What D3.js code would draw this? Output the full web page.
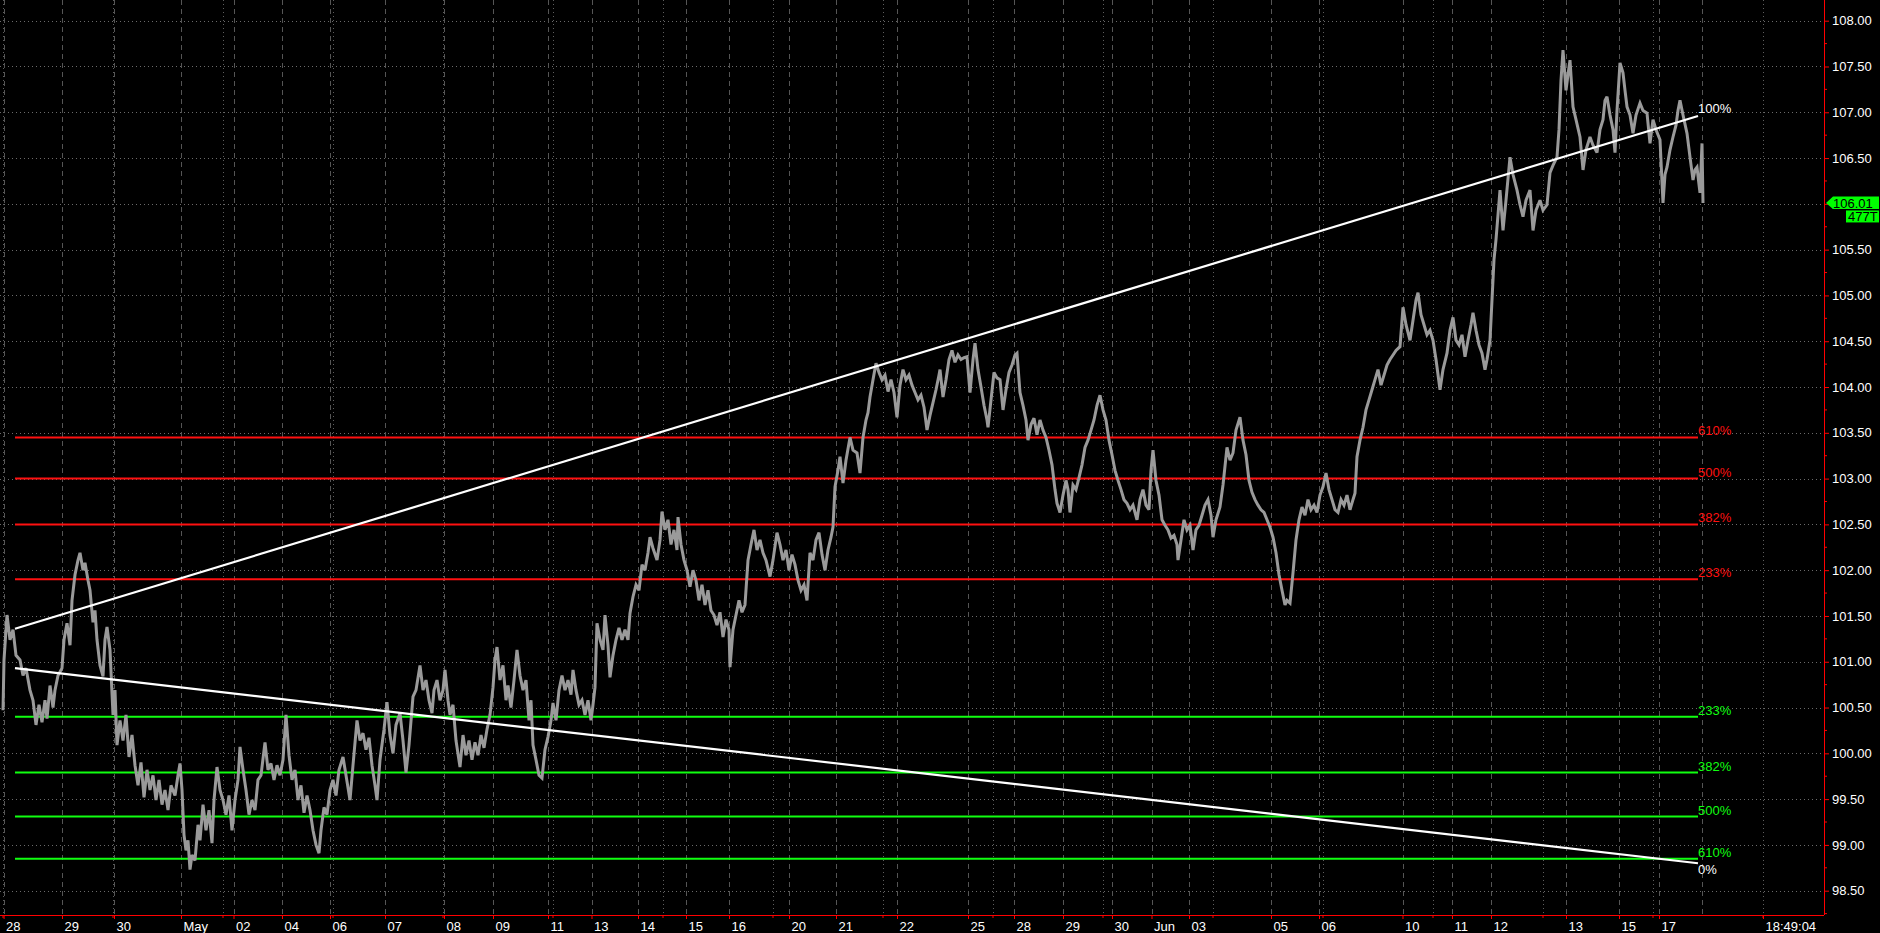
<!DOCTYPE html>
<html><head><meta charset="utf-8">
<script src="https://cdn.jsdelivr.net/npm/d3@7/dist/d3.min.js"></script>
<style>
html,body{margin:0;padding:0;background:#000;overflow:hidden}
svg{display:block}
text{font-family:"Liberation Sans",Arial,sans-serif}
</style></head><body>
<svg id="chart" width="1880" height="933"></svg>
<script>
// ---- data ----
const dayTickBars   = [1.8,31,57,90.5,116.75,141,165,192.5,222,246.5,274,295.75,319,343,364.5,394.5,418,448.5,484,507,531.5,556,575.75,594.5,635.5,659.5,701.25,726,745.5,783,809.5,829.5,881.5];
const dayTickLabels = ["28","29","30","May","02","04","06","07","08","09","11","13","14","15","16","20","21","22","25","28","29","30","Jun","03","05","06","10","11","12","13","15","17","18:49:04"];
const currentBar = 851;
const yTickValues = [98.5,99,99.5,100,100.5,101,101.5,102,102.5,103,103.5,104,104.5,105,105.5,106,106.5,107,107.5,108];
const redLevels   = [103.45,103.00,102.50,101.90];
const redLabels   = ["610%","500%","382%","233%"];
const greenLevels = [100.40,99.79,99.31,98.85];
const greenLabels = ["233%","382%","500%","610%"];
const levelStartBar = 7.5, levelEndBar = 849;
const trendUpper = [[7.5,101.36],[849,106.96]];
const trendLower = [[7.5,100.93],[849,98.80]];
const trendUpperLabel = "100%", trendLowerLabel = "0%";
const lastPrice = 106.01, lastVolume = "477T";

const priceSeries = [
[1.5,100.47],[2,101.02],[3.5,101.51],[5,101.24],[6.5,101.35],[8,101.07],[10,101.02],[11.5,100.85],[13,100.93],[15,100.69],[16.5,100.58],[18,100.31],[19.5,100.53],[21,100.34],[22.5,100.58],[23.5,100.38],[25,100.74],[26.5,100.50],[27.5,100.69],[29,100.85],[31,100.93],[32,101.24],[33.5,101.42],[35,101.18],[36,101.67],[37.5,101.95],[39,102.11],[40,102.19],[41.5,102.00],[42.5,102.08],[44,101.89],[45,101.78],[46.5,101.43],[47.5,101.56],[48.5,101.24],[50,100.96],[51.5,100.84],[52.5,101.24],[53.5,101.38],[55,101.13],[56.5,100.42],[57.5,100.69],[58.5,100.09],
[60,100.36],[61.5,100.14],[63,100.42],[64.5,99.96],[66,100.20],[67.5,99.87],[69,99.65],[70.5,99.90],[72,99.52],[73.5,99.82],[75,99.60],[76.5,99.76],[78,99.49],[79.5,99.71],[81,99.44],[82.5,99.60],[84,99.38],[85.5,99.65],[87.5,99.54],[89,99.76],[90,99.89],[91,99.60],[92,99.11],[93,98.94],[94,99.05],[95,98.73],[96,98.89],[97.5,98.83],[99,99.22],[100,99.05],[101.5,99.44],[103,99.16],[104.5,99.38],[106,99.02],[107,99.49],[108.5,99.85],[110,99.60],[111.5,99.49],[113,99.33],[114.5,99.54],[116,99.16],[117.5,99.49],[119,99.71],[120,100.07],[121.5,99.82],[123,99.60],[124.5,99.33],[126,99.49],[127.5,99.38],[129,99.71],[130.5,99.76],[132.5,100.12],[134,99.82],[135.5,99.89],[137,99.71],[138.5,99.87],[140,99.76],[141.5,99.93],[143,100.42],[144.5,99.98],[146,99.71],[147.5,99.82],[149,99.49],[150.5,99.65],[152,99.35],[153.5,99.54],[155,99.38],[156.5,99.16],[158,99.00],[159.5,98.91],[160.5,99.16],[162,99.41],[163.5,99.33],[165,99.60],[166.5,99.71],[168,99.54],[169.5,99.82],[171.5,99.96],[173,99.76],[175,99.49],[176.5,99.87],[178.5,100.36],[180,100.14],[181.5,100.22],[183,100.04],[184.5,100.17],[186,99.87],[187.5,99.65],[188.5,99.49],[190,99.93],[192,100.26],[193.5,100.56],[195,100.20],[196.5,100.00],[198,100.31],[200,100.44],[201.5,100.14],[203,99.79],[204.5,100.09],[206.5,100.62],[208,100.69],[210,100.96],[211.5,100.69],[213,100.80],[214.5,100.58],[216,100.44],[217,100.69],[218.5,100.80],[220,100.58],
[221.5,100.69],[222.5,100.91],[224,100.58],[225,100.42],[226.5,100.53],[228,100.14],[230,99.85],[231.5,100.20],[233,99.98],[234.5,100.14],[236,99.93],[237.5,100.12],[239,99.98],[240.5,100.20],[242,100.06],[243.5,100.26],[245,100.42],[246.5,100.72],[247.5,101.02],[248.5,101.16],[250,100.80],[251.5,100.96],[253,100.58],[254,100.74],[255.5,100.50],[257,100.80],[258.5,101.13],[260,100.85],[261.5,100.69],[263,100.80],[264.5,100.36],[265.5,100.58],[266.5,100.09],[268,99.93],[269.5,99.76],[271,99.73],[272.5,100.04],[274,100.18],[275.5,100.36],[276.5,100.55],[278,100.36],[279.5,100.69],[281,100.85],[282.5,100.69],[284,100.80],[285.5,100.64],[286.5,100.91],[288,100.69],[289.5,100.53],[291,100.58],[292.5,100.42],[294,100.58],[295.5,100.36],[296.5,100.53],[297.5,100.72],[298.5,101.42],[300,101.24],[301.5,101.13],[302.5,101.51],[304,101.18],[305,100.83],[306.5,101.07],[308,101.24],[309.5,101.37],[311,101.24],[312.5,101.35],[314,101.24],[315,101.53],[316.5,101.71],[318,101.84],[319.5,101.78],[321,102.06],[322.5,102.00],[324,102.19],[325,102.36],[326.5,102.24],[328.5,102.11],[330,102.33],[331,102.64],[332.5,102.44],[334,102.55],[335.5,102.28],[337,102.44],[338.5,102.22],[339,102.58],[340.5,102.28],[342,102.11],[343.5,102.00],[345,101.82],[346.5,102.00],[348,101.89],[349.5,101.67],[351,101.84],[352.5,101.62],[354,101.78],[355.5,101.56],[357,101.51],[358.5,101.40],[360,101.54],[361.5,101.27],[363,101.46],[364.5,101.35],[365,100.94],[366.5,101.35],[368,101.51],[369.5,101.67],[371,101.54],[372.5,101.62],[374,102.11],[375.5,102.28],[377,102.44],[378.5,102.22],[380,102.33],[381.5,102.19],[383,102.11],[385,101.93],[386.5,102.11],[388.5,102.41],[390,102.28],[391.5,102.11],[393,102.22],[394.5,102.00],[396,102.17],[397.5,102.06],[399,101.89],[400.5,101.78],[402,101.84],[403.5,101.67],[405,102.19],[406.5,102.11],[408,102.33],[409.5,102.41],[411,102.17],[412.5,102.00],[414,102.22],[415.5,102.36],[416.5,102.47],[417.5,102.91],[419,103.09],[420,103.24],[421.5,102.95],[423,103.20],[425,103.45],[426.5,103.31],[428.5,103.28],[430,103.06],[431.5,103.45],[433,103.64],[434,103.72],
[435,103.89],[436.5,104.08],[438,104.26],[439.5,104.16],[441,104.08],[442.5,104.13],[444,103.95],[445.5,104.08],[447,103.94],[448.5,103.67],[450,104.02],[451.5,104.19],[453,104.08],[454.5,104.13],[456,104.02],[457.5,103.94],[459,103.86],[460.5,103.91],[462,103.78],[463.5,103.53],[465,103.69],[466.5,103.83],[468,103.97],[469.5,104.13],[470,104.19],[471.5,103.89],[473,104.08],[474.5,104.30],[476,104.40],[477.5,104.27],[479,104.35],[480.5,104.30],[482,104.32],[483.5,104.33],[485,103.94],[486.5,104.30],[487.5,104.48],[489,104.19],[490.5,104.00],[492,103.80],[493.5,103.64],[494,103.56],[495.5,103.86],[497,104.16],[498.5,104.10],[500,104.08],[501.5,103.75],[503,103.97],[504.5,104.16],[506,104.24],[507.5,104.35],[508.5,104.37],[510,103.94],[511.5,103.80],[513,103.64],[514,103.42],[515.5,103.59],[517,103.66],[518.5,103.48],[520,103.64],[521.5,103.53],[523,103.45],[524.5,103.31],[526,103.15],[527.5,102.88],[528.5,102.73],[530,102.63],[531.5,102.82],[533,102.98],[534,102.88],[535,102.63],[536.5,102.93],[538,102.88],[539.5,103.01],[541,103.15],[542.5,103.34],[544,103.42],[545.5,103.53],[547,103.64],[548.5,103.80],[550,103.91],[551.5,103.75],[553,103.64],[554.5,103.42],[556,103.26],[557.5,103.09],[559,102.98],[560.5,102.88],[562,102.77],[563.5,102.73],[565,102.66],[566.5,102.71],[568.5,102.55],[570,102.77],[571.5,102.88],[573,102.71],[574.5,102.66],[575.5,103.09],[576.5,103.31],[578,102.98],[579.5,102.82],[581,102.55],[582.5,102.49],[584,102.44],[585.5,102.35],[587,102.38],[588.5,102.28],[589,102.11],[590.5,102.33],[592,102.55],[593.5,102.44],[595,102.49],[596.5,102.22],[598,102.44],[599.5,102.49],[601,102.60],[602.5,102.71],[604,102.77],[605.5,102.60],[606.5,102.36],[608,102.55],[610,102.69],[611.5,102.93],[613.5,103.34],[615,103.20],[616.5,103.28],[618,103.53],[620,103.67],[621.5,103.42],[623,103.26],[624.5,102.98],[626,102.85],[627.5,102.77],[629,102.71],[630.5,102.66],[632,102.63],[633.5,102.55],[635,102.47],[636.5,102.36],[638,102.19],[639.5,101.95],[641,101.78],[642.5,101.62],[643.5,101.67],[645,101.64],[646.5,101.97],[648,102.33],
[649.5,102.55],[651,102.69],[652.5,102.60],[654,102.77],[655.5,102.66],[657,102.71],[658.5,102.63],[660,102.82],[661.5,102.91],[663,103.06],[664.5,102.88],[666,102.77],[667.5,102.66],[669,102.63],[670.5,102.77],[672,102.71],[673.5,102.82],[675,102.66],[676.5,102.77],[677.5,102.84],[678.5,103.24],[680,103.42],[681.5,103.56],[683,103.75],[684.5,103.86],[686,103.97],[687.5,104.08],[689,104.19],[690.5,104.02],[692,104.13],[693.5,104.24],[695,104.30],[696.5,104.35],[698,104.40],[700,104.44],[701.5,104.87],[703,104.68],[705,104.51],[706.5,104.73],[708,104.95],[709,105.03],[710.5,104.79],[712,104.68],[713.5,104.57],[715,104.62],[716.5,104.51],[718,104.30],[720,103.97],[721.5,104.19],[723.5,104.37],[725,104.62],[726.5,104.76],[728,104.51],[729.5,104.46],[731,104.57],[732.5,104.33],[734,104.51],[735.5,104.68],[736.5,104.81],[738,104.62],[739.5,104.46],[741,104.37],[742.5,104.19],[743.5,104.30],[745,104.51],[746,104.95],[747,105.39],[748,105.61],[749,105.88],[750,106.15],[751.5,105.71],[753,106.04],[755,106.51],[756.5,106.32],[758.5,106.15],[760,105.99],[761.5,105.86],[763,106.04],[765,106.15],[766.5,105.71],[768,105.93],[770,106.04],[771.5,105.93],[773.5,105.99],[775,106.34],[776.5,106.42],[778.5,106.51],[779.5,106.81],[780.5,107.35],[781.5,107.68],[783,107.24],[784,107.41],[785,107.57],[786.5,107.06],[788,106.92],[790,106.73],[791.5,106.37],[793,106.59],[795,106.73],[796.5,106.64],[798.5,106.56],[800,106.81],[801.5,106.92],[802.5,107.13],[803.5,107.17],[805,106.97],[806.5,106.81],[807.5,106.56],[808.5,107.02],[810,107.54],[811.5,107.43],[812.5,107.24],[813.5,107.06],[815,106.97],[816.5,106.77],[818,106.97],[820,107.10],[821.5,107.02],[823.5,106.99],[825,106.66],[826.5,106.92],[828,106.81],[830,106.70],[831.5,106.01],[832.5,106.32],[833.5,106.40],[835,106.59],[836.5,106.73],[838,106.86],[839,107.02],[840,107.13],[841.5,106.97],[843.5,106.77],[845,106.51],[846.5,106.26],[847.5,106.37],[848.5,106.40],[849.5,106.21],[850,106.12],[851,106.66],[851.5,106.01]
];

// ---- layout ----
const W = 1880, H = 933;
const axisX = 1824, axisY = 915;
const x = d3.scaleLinear().domain([0, 912]).range([0, axisX]);
const y = d3.scaleLinear().domain([98.5, 108]).range([890.7, 20.7]);

const svg = d3.select("#chart");
svg.append("rect").attr("width", W).attr("height", H).attr("fill", "#000");

const grid = svg.append("g");
grid.selectAll("line.h").data(yTickValues).join("line")
  .attr("x1", 0).attr("x2", axisX)
  .attr("y1", d => Math.round(y(d)) + 0.5).attr("y2", d => Math.round(y(d)) + 0.5)
  .attr("stroke", "#6a6a6a").attr("stroke-width", 1).attr("stroke-dasharray", "1,3");
const minorBars = d3.range(1.5, 912, 55);
grid.selectAll("line.m").data(minorBars).join("line")
  .attr("x1", d => Math.round(x(d)) + 0.5).attr("x2", d => Math.round(x(d)) + 0.5)
  .attr("y1", 0).attr("y2", axisY)
  .attr("stroke", "#5e5e5e").attr("stroke-width", 1).attr("stroke-dasharray", "1,3");
const dayLineBars = dayTickBars.slice(0, -1).concat([currentBar]);
grid.selectAll("line.d").data(dayLineBars).join("line")
  .attr("x1", d => Math.round(x(d)) + 0.5).attr("x2", d => Math.round(x(d)) + 0.5)
  .attr("y1", 0).attr("y2", axisY)
  .attr("stroke", "#555").attr("stroke-width", 1).attr("stroke-dasharray", "5,4");

function levelGroup(vals, labels, color) {
  const g = svg.append("g");
  g.selectAll("line").data(vals).join("line")
    .attr("x1", x(levelStartBar)).attr("x2", x(levelEndBar))
    .attr("y1", d => y(d)).attr("y2", d => y(d))
    .attr("stroke", color).attr("stroke-width", 2);
  g.selectAll("text").data(vals).join("text")
    .attr("x", x(levelEndBar)).attr("y", d => y(d) - 2)
    .attr("fill", color).attr("font-size", 13).text((d, i) => labels[i]);
}
levelGroup(redLevels, redLabels, "#ff1010");
levelGroup(greenLevels, greenLabels, "#10ff10");

const line = d3.line().x(d => x(d[0])).y(d => y(d[1]));
svg.append("path").datum(priceSeries).attr("d", line)
  .attr("fill", "none").attr("stroke", "#9a9a9a").attr("stroke-width", 3)
  .attr("stroke-linejoin", "miter").attr("stroke-miterlimit", 3);

[trendUpper, trendLower].forEach(t => {
  svg.append("path").datum(t).attr("d", line)
    .attr("fill", "none").attr("stroke", "#fff").attr("stroke-width", 2.2);
});
svg.append("text").attr("x", x(trendUpper[1][0])).attr("y", y(trendUpper[1][1]) - 3)
  .attr("fill", "#fff").attr("font-size", 13).text(trendUpperLabel);
svg.append("text").attr("x", x(trendLower[1][0])).attr("y", y(trendLower[1][1]) + 11)
  .attr("fill", "#fff").attr("font-size", 13).text(trendLowerLabel);

const yAxis = d3.axisRight(y).tickValues(yTickValues).tickFormat(d3.format(".2f")).tickSize(5).tickPadding(3);
const ya = svg.append("g").attr("transform", `translate(${axisX},0)`).call(yAxis);
ya.select(".domain").attr("stroke", "#ff0000").attr("d", `M0.5,0V${axisY}`);
ya.selectAll(".tick line").attr("stroke", "#ff0000");
ya.selectAll(".tick text").attr("fill", "#fff").attr("font-size", 13)
  .attr("font-family", "Liberation Sans, Arial, sans-serif");
const yMinor = d3.range(98.25, 108.3, 0.5);
svg.append("g").selectAll("line").data(yMinor).join("line")
  .attr("x1", axisX).attr("x2", axisX + 3)
  .attr("y1", d => y(d)).attr("y2", d => y(d)).attr("stroke", "#ff0000");

const xAxis = d3.axisBottom(x).tickValues(dayTickBars).tickFormat((d, i) => dayTickLabels[i]).tickSize(4).tickPadding(3);
const xa = svg.append("g").attr("transform", `translate(0,${axisY})`).call(xAxis);
xa.select(".domain").attr("stroke", "#ff0000").attr("d", `M0,0.5H${axisX}`);
xa.selectAll(".tick line").attr("stroke", "#ff0000");
xa.selectAll(".tick text").attr("fill", "#fff").attr("font-size", 13)
  .attr("font-family", "Liberation Sans, Arial, sans-serif")
  .attr("text-anchor", "start").attr("x", 2);
svg.append("g").selectAll("line").data(minorBars).join("line")
  .attr("x1", d => x(d)).attr("x2", d => x(d))
  .attr("y1", axisY).attr("y2", axisY + 3).attr("stroke", "#ff0000");

const yp = y(lastPrice);
svg.append("path")
  .attr("d", `M${axisX + 2},${yp} L${axisX + 9},${yp - 6.5} L${W - 1},${yp - 6.5} L${W - 1},${yp + 6} L${axisX + 9},${yp + 6} Z`)
  .attr("fill", "#00ff00");
svg.append("text").attr("x", axisX + 9).attr("y", yp + 4.6).attr("fill", "#000")
  .attr("font-size", 13).text(d3.format(".2f")(lastPrice));
svg.append("rect").attr("x", 1846).attr("y", yp + 7.5).attr("width", W - 1 - 1846).attr("height", 12)
  .attr("fill", "#00ff00");
svg.append("text").attr("x", 1848).attr("y", yp + 18).attr("fill", "#000")
  .attr("font-size", 13).text(lastVolume);
</script>
</body></html>
